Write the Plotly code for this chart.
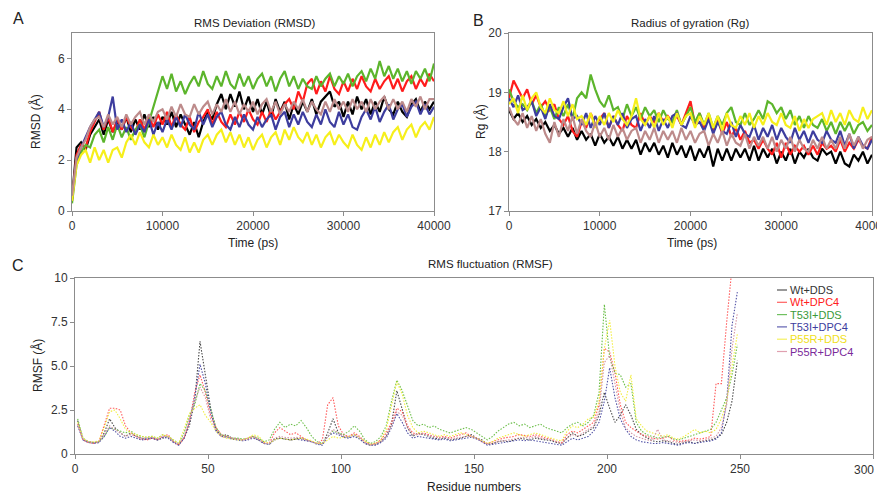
import plotly.graph_objects as go

# ---------------- data ----------------
series_names = ["Wt+DDS", "Wt+DPC4", "T53I+DDS", "T53I+DPC4", "P55R+DDS", "P55R+DPC4"]

time_ps = list(range(0, 40001, 500))  # 81 samples

rmsd_wt_dds = [0.5, 2.5, 2.7, 2.4, 3.0, 3.3, 3.6, 3.0, 3.6, 3.1, 3.5,
               3.2, 3.7, 3.1, 3.6, 3.2, 3.8, 3.3, 3.7, 3.2, 3.7,
               3.4, 3.9, 3.3, 3.8, 3.4, 3.0, 3.5, 2.9, 3.5, 3.9,
               3.6, 4.2, 4.6, 4.0, 4.6, 4.1, 4.7, 4.0, 4.5, 3.9,
               4.4, 3.8, 4.3, 3.7, 4.4, 3.9, 4.3, 3.6, 4.2, 3.8,
               4.3, 3.9, 4.4, 3.8, 4.3, 4.5, 4.7, 4.1, 4.3, 3.7,
               4.3, 3.8, 4.5, 4.0, 4.4, 3.8, 4.3, 3.9, 4.5, 4.0,
               3.8, 4.3, 3.9, 3.7, 4.2, 4.4, 3.9, 4.3, 4.0, 4.3]
rmsd_wt_dpc4 = [0.4, 2.2, 2.6, 2.5, 3.1, 3.5, 3.9, 3.2, 3.7, 3.1, 3.6,
                3.2, 3.7, 3.3, 3.1, 3.6, 3.2, 3.7, 3.3, 3.8, 3.4,
                3.9, 3.3, 3.8, 3.4, 3.2, 3.7, 3.1, 3.5, 3.7, 4.0,
                3.4, 3.9, 3.5, 3.3, 3.8, 3.4, 3.9, 3.5, 4.0, 3.6,
                3.4, 3.9, 3.5, 4.0, 3.6, 3.9, 4.2, 4.4, 4.0, 4.7,
                4.3, 5.0, 5.2, 4.6, 5.1, 4.7, 5.3, 4.8, 4.6, 5.1,
                4.7, 5.2, 4.8, 5.3, 4.9, 4.7, 5.2, 4.8, 5.1, 5.3,
                4.8, 5.2, 4.7, 5.1, 5.3, 4.8, 5.2, 4.9, 5.4, 5.1]
rmsd_t53i_dds = [0.3, 1.8, 2.3, 2.6, 2.5, 3.0, 3.2, 2.7, 3.3, 2.8, 3.4,
                 2.9, 3.3, 2.8, 3.2, 3.4, 2.9, 3.5, 4.1, 4.7, 5.3,
                 4.8, 5.4, 4.7, 5.1, 4.6, 5.0, 5.3, 4.9, 5.5, 5.0,
                 4.8, 5.3, 4.9, 5.5, 5.0, 4.8, 5.4, 4.9, 5.3, 4.8,
                 5.2, 5.4, 4.9, 5.3, 4.7, 5.2, 5.5, 4.9, 5.3, 4.8,
                 5.2, 4.9, 4.8, 5.3, 4.9, 5.2, 5.4, 4.9, 5.3, 5.0,
                 5.4, 4.9, 5.3, 5.5, 5.1, 5.6, 5.2, 5.9, 5.3, 5.7,
                 5.2, 5.6, 5.1, 5.5, 5.0, 5.5, 5.2, 5.6, 5.1, 5.8]
rmsd_t53i_dpc4 = [0.5, 2.0, 2.5, 2.9, 3.3, 3.6, 3.9, 3.3, 3.7, 4.5, 3.2,
                  3.6, 3.1, 3.5, 3.0, 3.4, 3.1, 3.6, 3.0, 3.5, 3.1,
                  3.6, 3.2, 3.7, 3.3, 3.8, 3.4, 3.2, 3.9, 3.4, 3.8,
                  3.3, 3.7, 3.9, 3.4, 3.2, 3.7, 3.3, 3.8, 3.4, 3.2,
                  3.7, 3.3, 3.6, 3.8, 3.2, 3.7, 3.9, 3.3, 3.8, 3.4,
                  3.9, 3.5, 3.3, 3.8, 3.4, 4.0, 3.5, 3.3, 3.9, 3.4,
                  3.8, 3.3, 3.2, 3.7, 4.0, 3.6, 4.1, 3.5, 3.9, 4.2,
                  3.6, 4.0, 4.2, 3.7, 4.1, 4.3, 3.8, 4.2, 3.8, 4.1]
rmsd_p55r_dds = [0.4, 1.8, 2.2, 2.4, 1.9, 2.5, 2.0, 2.4, 1.9, 2.4, 2.5,
                 2.1, 2.7, 3.0, 2.6, 3.1, 2.7, 2.5, 3.0, 2.6, 2.9,
                 2.5, 3.0, 2.6, 2.4, 2.9, 2.3, 2.7, 2.3, 2.8, 3.0,
                 2.6, 3.0, 3.2, 2.7, 3.1, 2.6, 3.0, 2.5, 2.9, 2.4,
                 2.8, 3.0, 2.5, 2.9, 3.1, 2.6, 3.2, 2.8, 3.3, 2.9,
                 2.7, 3.1, 2.6, 3.0, 2.5, 2.9, 3.1, 2.6, 3.0, 2.7,
                 2.5, 3.0, 2.6, 2.4, 2.9, 2.5, 3.0, 2.6, 3.1, 2.7,
                 3.1, 3.3, 2.8, 3.2, 3.4, 2.9, 3.3, 3.5, 3.2, 3.7]
rmsd_p55r_dpc4 = [0.6, 2.1, 2.5, 2.8, 3.3, 3.6, 3.7, 3.3, 3.8, 3.4, 3.7,
                  3.3, 3.8, 3.4, 3.7, 3.9, 3.4, 3.8, 3.5, 3.9, 4.0,
                  3.6, 4.1, 3.7, 4.2, 3.8, 3.7, 4.2, 3.8, 4.1, 4.3,
                  3.8, 4.2, 3.9, 4.4, 3.9, 4.3, 3.8, 4.2, 3.9, 4.3,
                  3.8, 4.2, 4.4, 3.9, 4.3, 3.8, 4.2, 3.9, 4.3, 4.0,
                  4.4, 3.9, 4.3, 4.0, 3.8, 4.3, 3.9, 4.4, 4.0, 4.3,
                  3.9, 4.4, 4.0, 4.3, 3.9, 4.4, 4.0, 4.3, 4.5, 4.0,
                  4.4, 4.0, 4.3, 3.9, 4.4, 4.1, 4.5, 4.0, 4.4, 4.4]

rg_wt_dds = [18.7, 18.55, 18.65, 18.5, 18.6, 18.45, 18.55, 18.4, 18.5, 18.35, 18.45,
             18.3, 18.4, 18.25, 18.4, 18.2, 18.35, 18.2, 18.3, 18.1, 18.3,
             18.15, 18.25, 18.1, 18.25, 18.05, 18.2, 18.05, 18.2, 17.95, 18.15,
             18.0, 18.15, 17.95, 18.1, 17.9, 18.15, 17.95, 18.1, 17.9, 18.1,
             17.85, 18.05, 17.9, 18.1, 17.75, 18.05, 17.85, 18.05, 17.85, 18.05,
             17.9, 18.05, 17.85, 18.1, 17.85, 18.05, 17.9, 18.05, 17.8, 18.0,
             17.85, 18.05, 17.8, 18.0, 17.9, 18.05, 17.9, 17.85, 18.05, 17.95,
             18.0, 17.8, 18.0, 17.8, 17.75, 17.95, 17.85, 18.0, 17.8, 17.95]
rg_wt_dpc4 = [18.9, 19.2, 19.05, 18.9, 19.05, 18.8, 18.95, 18.75, 18.85, 18.7, 18.8,
              18.55, 18.45, 18.6, 18.35, 18.25, 18.5, 18.4, 18.65, 18.45, 18.55,
              18.65, 18.4, 18.6, 18.45, 18.35, 18.6, 18.45, 18.4, 18.65, 18.45,
              18.6, 18.5, 18.65, 18.5, 18.6, 18.5, 18.6, 18.45, 18.65, 18.85,
              18.45, 18.65, 18.4, 18.6, 18.35, 18.55, 18.3, 18.5, 18.25, 18.4,
              18.2, 18.35, 18.15, 18.2, 18.05, 18.2, 18.05, 17.95, 18.15, 17.9,
              18.15, 17.95, 18.1, 18.0, 18.1, 17.95, 18.1, 17.95, 18.15, 18.05,
              18.1, 18.0, 18.2, 18.0, 18.15, 18.05, 18.2, 18.1, 18.05, 18.25]
rg_t53i_dds = [19.05, 18.85, 18.75, 18.8, 18.7, 18.85, 18.65, 18.8, 18.6, 18.75, 18.55,
               18.75, 18.6, 18.8, 18.55, 18.9, 19.0, 18.9, 19.3, 19.05, 18.85,
               18.75, 18.95, 18.7, 18.75, 18.55, 18.8, 18.6, 18.75, 18.55, 18.75,
               18.6, 18.7, 18.5, 18.7, 18.55, 18.5, 18.7, 18.45, 18.6, 18.75,
               18.5, 18.65, 18.45, 18.65, 18.4, 18.6, 18.45, 18.65, 18.75, 18.5,
               18.45, 18.65, 18.45, 18.55, 18.7, 18.55, 18.85, 18.8, 18.65, 18.75,
               18.55, 18.7, 18.45, 18.6, 18.4, 18.6, 18.45, 18.4, 18.55, 18.35,
               18.5, 18.3, 18.5, 18.35, 18.5, 18.3, 18.45, 18.5, 18.35, 18.45]
rg_t53i_dpc4 = [18.9, 18.75, 18.95, 18.7, 18.75, 18.85, 18.6, 18.75, 18.55, 18.8, 18.6,
                18.55, 18.75, 18.9, 18.55, 18.6, 18.45, 18.65, 18.4, 18.6, 18.45,
                18.65, 18.4, 18.6, 18.45, 18.65, 18.4, 18.55, 18.6, 18.35, 18.55,
                18.4, 18.6, 18.35, 18.55, 18.4, 18.6, 18.65, 18.45, 18.4, 18.6,
                18.45, 18.5, 18.35, 18.55, 18.3, 18.5, 18.35, 18.3, 18.5, 18.25,
                18.45, 18.3, 18.25, 18.45, 18.2, 18.4, 18.25, 18.45, 18.2, 18.4,
                18.25, 18.15, 18.4, 18.2, 18.35, 18.15, 18.35, 18.2, 18.15, 18.35,
                18.2, 18.15, 18.35, 18.1, 18.3, 18.05, 18.25, 18.1, 18.05, 18.2]
rg_p55r_dds = [18.8, 18.9, 18.65, 18.95, 18.7, 18.9, 19.0, 18.75, 18.65, 18.9, 18.7,
               18.65, 18.85, 18.6, 18.8, 18.55, 18.6, 18.45, 18.65, 18.4, 18.6,
               18.45, 18.65, 18.5, 18.7, 18.55, 18.45, 18.6, 18.9, 18.55, 18.45,
               18.6, 18.4, 18.65, 18.45, 18.6, 18.4, 18.65, 18.45, 18.6, 18.65,
               18.4, 18.6, 18.45, 18.65, 18.4, 18.6, 18.35, 18.65, 18.45, 18.4,
               18.6, 18.45, 18.65, 18.4, 18.6, 18.45, 18.65, 18.5, 18.45, 18.65,
               18.45, 18.4, 18.6, 18.35, 18.55, 18.4, 18.55, 18.6, 18.65, 18.45,
               18.7, 18.5, 18.65, 18.45, 18.7, 18.55, 18.5, 18.75, 18.55, 18.7]
rg_p55r_dpc4 = [18.75, 18.55, 18.45, 18.65, 18.4, 18.6, 18.35, 18.55, 18.3, 18.15, 18.5,
                18.25, 18.55, 18.35, 18.6, 18.3, 18.55, 18.35, 18.25, 18.5, 18.25,
                18.4, 18.2, 18.45, 18.25, 18.4, 18.2, 18.35, 18.4, 18.15, 18.35,
                18.2, 18.4, 18.15, 18.35, 18.2, 18.35, 18.15, 18.4, 18.2, 18.35,
                18.15, 18.3, 18.35, 18.1, 18.3, 18.15, 18.35, 18.1, 18.3, 18.15,
                18.1, 18.3, 18.05, 18.25, 18.1, 18.25, 18.05, 18.25, 18.0, 18.2,
                18.05, 18.25, 18.0, 18.2, 18.05, 18.0, 18.2, 18.05, 18.25, 18.05,
                18.2, 18.05, 18.25, 18.05, 18.3, 18.1, 18.25, 18.05, 18.2, 18.25]

residues = list(range(1, 250, 2))  # 125 samples

rmsf_wt_dds = [1.9, 0.8, 0.7, 0.65, 0.7, 1.2, 2.0, 1.5, 1.2, 1.0,
               1.2, 1.0, 0.9, 0.85, 0.9, 0.8, 0.9, 1.0, 0.7, 0.55,
               0.9, 1.6, 3.0, 6.4, 4.5, 2.6, 1.4, 1.0, 1.1, 0.9,
               0.85, 0.8, 0.85, 0.95, 0.8, 0.6, 0.55, 0.85, 0.9, 0.85,
               0.8, 0.85, 0.9, 0.8, 0.7, 0.6, 0.55, 1.2, 2.0, 1.2,
               1.0, 0.95, 1.1, 0.9, 0.6, 0.5, 0.55, 0.7, 1.0, 1.7,
               3.6, 2.5, 1.5, 1.0, 1.2, 1.1, 1.0, 0.9, 0.85, 0.9,
               0.8, 0.85, 0.9, 1.0, 1.1, 0.9, 0.8, 0.55, 0.6, 0.7,
               0.75, 0.7, 0.8, 0.9, 0.85, 0.8, 0.9, 0.85, 0.8, 0.75,
               0.65, 0.6, 0.9, 1.2, 1.0, 1.1, 1.3, 1.5, 2.2, 3.5,
               2.6, 1.8, 2.2, 2.8, 2.2, 1.4, 1.1, 0.9, 0.75, 0.7,
               0.75, 0.7, 0.6, 0.55, 0.65, 0.7, 0.6, 0.7, 0.75, 0.8,
               0.9, 1.1, 1.8, 3.0, 5.3]
rmsf_wt_dpc4 = [1.7, 0.8, 0.65, 0.6, 0.7, 1.6, 2.6, 2.6, 2.5, 1.6,
                1.2, 1.0, 0.85, 0.8, 0.9, 0.8, 1.0, 1.1, 0.7, 0.5,
                0.9, 1.8, 3.5, 4.5, 3.5, 2.2, 1.5, 1.1, 1.0, 0.9,
                0.85, 0.8, 0.9, 1.0, 0.85, 0.65, 0.6, 1.2, 1.5, 1.3,
                1.1, 1.2, 1.0, 0.8, 0.7, 0.6, 0.8, 2.8, 3.2, 1.6,
                1.1, 1.0, 1.2, 1.0, 0.7, 0.55, 0.6, 0.8, 1.2, 1.8,
                2.6, 2.4, 1.6, 1.2, 1.1, 1.2, 1.1, 1.0, 0.95, 1.0,
                0.9, 1.0, 1.1, 1.2, 1.0, 0.9, 0.7, 0.6, 0.7, 0.8,
                0.9, 0.95, 1.0, 1.1, 1.05, 1.0, 1.1, 1.0, 0.9, 0.85,
                0.7, 0.65, 1.1, 1.3, 1.2, 1.4, 1.6, 1.8, 2.8, 6.0,
                5.8, 4.6, 2.8, 1.8, 1.5, 1.3, 1.1, 1.0, 0.9, 0.85,
                0.9, 1.0, 0.8, 0.7, 0.75, 0.8, 0.9, 0.85, 0.9, 1.0,
                4.0, 4.0, 7.5, 10.6, None]
rmsf_t53i_dds = [2.0, 0.9, 0.7, 0.65, 0.7, 1.0, 1.5, 1.4, 1.3, 1.2,
                 1.3, 1.1, 1.0, 0.95, 1.0, 0.9, 1.1, 1.0, 0.8, 0.6,
                 1.2, 2.2, 2.8, 4.0, 3.6, 2.5, 1.5, 1.1, 1.0, 0.9,
                 0.9, 0.85, 0.9, 1.0, 0.9, 0.7, 0.8, 1.4, 1.8, 1.5,
                 1.7, 1.6, 1.9, 1.5, 1.0, 0.7, 0.6, 1.0, 1.3, 1.2,
                 1.1, 1.3, 1.6, 1.3, 0.8, 0.6, 0.7, 1.0, 1.6, 3.0,
                 4.2, 3.6, 2.8, 1.9, 1.6, 1.7, 1.5, 1.6, 1.4, 1.3,
                 1.2, 1.3, 1.4, 1.5, 1.4, 1.2, 1.0, 0.8, 1.0, 1.3,
                 1.5, 1.7, 1.8, 1.6, 1.7, 1.5, 1.6, 1.7, 1.5, 1.4,
                 1.3, 1.2, 1.5, 1.7, 1.8, 1.6, 1.8, 2.2, 3.5, 8.5,
                 5.5, 4.6, 4.5, 3.8, 4.0, 1.8, 1.3, 1.1, 1.0, 0.9,
                 0.95, 1.0, 0.85, 0.8, 0.9, 1.0, 1.1, 1.2, 1.3, 1.4,
                 1.8, 2.5, 3.2, 4.5, 6.2]
rmsf_t53i_dpc4 = [1.6, 0.8, 0.65, 0.6, 0.65, 1.0, 1.5, 1.3, 1.0, 0.9,
                  1.0, 0.9, 0.8, 0.85, 0.9, 0.8, 0.95, 0.9, 0.65, 0.5,
                  0.9, 1.8, 3.2, 5.1, 4.0, 2.4, 1.3, 1.0, 0.95, 0.85,
                  0.8, 0.75, 0.8, 0.9, 0.8, 0.6, 0.55, 0.8, 0.9, 0.85,
                  0.8, 0.85, 0.8, 0.75, 0.7, 0.55, 0.5, 1.0, 1.2, 1.1,
                  0.95, 0.9, 1.0, 0.85, 0.6, 0.5, 0.5, 0.65, 0.9, 1.5,
                  2.3, 1.8, 1.2, 0.9, 1.0, 0.95, 0.9, 0.85, 0.8, 0.85,
                  0.75, 0.8, 0.85, 0.9, 0.95, 0.85, 0.7, 0.5, 0.55, 0.6,
                  0.65, 0.7, 0.75, 0.8, 0.75, 0.8, 0.75, 0.7, 0.65, 0.6,
                  0.55, 0.5, 0.7, 0.9, 0.8, 0.9, 1.0, 1.3, 1.8, 3.0,
                  4.9, 3.2, 2.0, 1.4, 1.0, 0.8, 0.7, 0.65, 0.6, 0.6,
                  0.65, 0.6, 0.55, 0.5, 0.6, 0.65, 0.6, 0.65, 0.7, 0.75,
                  0.85, 1.2, 3.0, 7.3, 9.2]
rmsf_p55r_dds = [1.8, 0.9, 0.7, 0.7, 0.75, 1.5, 2.4, 2.5, 2.0, 1.4,
                 1.2, 1.1, 1.0, 0.95, 1.0, 0.9, 1.1, 1.0, 0.8, 0.6,
                 1.4, 2.3, 2.6, 2.8, 2.2, 1.8, 1.3, 1.0, 0.9, 0.85,
                 0.8, 0.8, 0.9, 1.1, 1.0, 0.7, 0.6, 0.8, 0.9, 0.85,
                 0.8, 0.85, 0.9, 0.85, 0.75, 0.6, 0.6, 0.8, 1.0, 0.9,
                 0.95, 1.0, 1.1, 0.9, 0.7, 0.55, 0.6, 0.8, 1.4, 2.8,
                 4.1, 3.4, 2.2, 1.5, 1.2, 1.3, 1.2, 1.1, 1.0, 1.1,
                 1.0, 1.1, 1.2, 1.1, 1.0, 0.9, 0.75, 0.6, 0.7, 0.9,
                 1.0, 1.1, 1.2, 1.1, 1.0, 1.1, 1.2, 1.1, 1.0, 0.9,
                 0.8, 0.75, 1.3, 1.6, 1.5, 1.7, 2.0, 2.1, 3.0, 6.0,
                 7.6, 5.0, 3.5, 3.0, 4.5, 2.0, 1.6, 1.3, 1.2, 1.1,
                 1.0, 1.1, 0.9, 0.85, 1.0, 1.2, 1.4, 1.2, 1.3, 1.2,
                 1.4, 2.0, 3.0, 5.0, 6.8]
rmsf_p55r_dpc4 = [1.7, 0.85, 0.7, 0.65, 0.7, 1.1, 1.6, 1.4, 1.2, 1.0,
                  1.1, 1.0, 0.9, 0.9, 0.95, 0.85, 1.0, 0.95, 0.7, 0.55,
                  1.0, 2.0, 3.0, 3.8, 3.2, 2.0, 1.4, 1.0, 0.95, 0.9,
                  0.85, 0.8, 0.85, 0.95, 0.85, 0.6, 0.6, 0.9, 1.0, 0.95,
                  0.9, 0.95, 0.9, 0.8, 0.7, 0.6, 0.6, 1.0, 1.4, 1.2,
                  1.0, 1.0, 1.1, 0.95, 0.65, 0.5, 0.55, 0.7, 1.0, 1.6,
                  2.4, 2.2, 1.5, 1.1, 1.1, 1.15, 1.05, 1.0, 0.9, 0.95,
                  0.85, 0.9, 0.95, 1.0, 1.0, 0.9, 0.7, 0.55, 0.6, 0.7,
                  0.75, 0.8, 0.85, 0.9, 0.95, 0.9, 1.0, 0.9, 0.85, 0.8,
                  0.7, 0.6, 0.9, 1.1, 1.0, 1.2, 1.4, 1.6, 2.4, 5.2,
                  5.6, 4.0, 2.4, 1.5, 1.2, 1.0, 0.9, 0.8, 0.75, 1.4,
                  0.8, 0.75, 0.7, 0.65, 0.7, 0.75, 0.8, 0.75, 0.8, 0.9,
                  1.0, 1.5, 2.8, 6.0, 8.0]

x_ticks_time = [0, 10000, 20000, 30000, 40000]
x_ticklabels_time = ["0", "10000", "20000", "30000", "40000"]
y_ticks_rmsd = [0, 2, 4, 6]
y_ticks_rg = [17, 18, 19, 20]
x_ticks_res = [0, 50, 100, 150, 200, 250, 300]
x_ticklabels_res = ["0", "50", "100", "150", "200", "250", ""]
last_res_label = "300"
y_ticks_rmsf = [0, 2.5, 5.0, 7.5, 10]
y_ticklabels_rmsf = ["0", "2.5", "5.0", "7.5", "10"]

rmsd_series = [rmsd_wt_dds, rmsd_wt_dpc4, rmsd_t53i_dds, rmsd_t53i_dpc4, rmsd_p55r_dds, rmsd_p55r_dpc4]
rg_series = [rg_wt_dds, rg_wt_dpc4, rg_t53i_dds, rg_t53i_dpc4, rg_p55r_dds, rg_p55r_dpc4]
rmsf_series = [rmsf_wt_dds, rmsf_wt_dpc4, rmsf_t53i_dds, rmsf_t53i_dpc4, rmsf_p55r_dds, rmsf_p55r_dpc4]
for s in rmsd_series + rg_series:
    assert len(s) == len(time_ps), len(s)
for s in rmsf_series:
    assert len(s) == len(residues), len(s)

# ---------------- styles ----------------
md_colors = ["#000000", "#ff1c1c", "#5cb52c", "#3d3d9e", "#f6ef1b", "#bd8b8b"]
rmsf_colors = ["#4a4a4a", "#ff5a5a", "#6cbf4a", "#5252a6", "#f2ee40", "#d497a4"]
legend_line_colors = ["#555555", "#ff6060", "#70c060", "#6060b0", "#f4f060", "#e0a0b0"]
legend_text_colors = ["#333333", "#ff2020", "#3a9a3a", "#3d3d9e", "#f0e020", "#7a2a9a"]

FONT = "Liberation Sans, Arial, sans-serif"
W, H = 877, 494

fig = go.Figure()

for i, name in enumerate(series_names):
    fig.add_trace(go.Scatter(x=time_ps, y=rmsd_series[i], mode="lines", name=name,
                             line=dict(color=md_colors[i], width=2.2), showlegend=False,
                             xaxis="x", yaxis="y"))
for i, name in enumerate(series_names):
    fig.add_trace(go.Scatter(x=time_ps, y=rg_series[i], mode="lines", name=name,
                             line=dict(color=md_colors[i], width=2.2), showlegend=False,
                             xaxis="x2", yaxis="y2"))
for i, name in enumerate(series_names):
    fig.add_trace(go.Scatter(x=residues, y=rmsf_series[i], mode="lines", name=name,
                             line=dict(color=rmsf_colors[i], width=1.1, dash="1.5px,1.5px"),
                             showlegend=False, xaxis="x3", yaxis="y3"))

def px_x(p):
    return p / W

def px_y(p):
    return 1 - p / H

axis_common = dict(showline=True, linecolor="#8c8c8c", linewidth=1, mirror=True,
                   ticks="outside", ticklen=4, tickcolor="#8c8c8c", showgrid=False,
                   zeroline=False, tickfont=dict(family=FONT, size=12, color="#333333"),
                   automargin=False)

fig.update_layout(
    width=W, height=H,
    margin=dict(l=0, r=0, t=0, b=0),
    paper_bgcolor="white", plot_bgcolor="white",
    font=dict(family=FONT, color="#333333"),
    showlegend=False,
    xaxis=dict(domain=[px_x(72), px_x(434)], range=[0, 40000], tickvals=x_ticks_time,
               ticktext=x_ticklabels_time, anchor="y", **axis_common),
    yaxis=dict(domain=[px_y(211), px_y(33)], range=[0, 7], tickvals=y_ticks_rmsd,
               anchor="x", **axis_common),
    xaxis2=dict(domain=[px_x(509), px_x(872)], range=[0, 40000], tickvals=x_ticks_time,
                ticktext=x_ticklabels_time, anchor="y2", ticklabeloverflow="allow",
                **axis_common),
    yaxis2=dict(domain=[px_y(211), px_y(33)], range=[17, 20], tickvals=y_ticks_rg,
                anchor="x2", **axis_common),
    xaxis3=dict(domain=[px_x(75), px_x(873)], range=[0, 300], tickvals=x_ticks_res,
                ticktext=x_ticklabels_res, anchor="y3", **axis_common),
    yaxis3=dict(domain=[px_y(454), px_y(278)], range=[0, 10], tickvals=y_ticks_rmsf,
                ticktext=y_ticklabels_rmsf, anchor="x3", **axis_common),
)

ann = []
def add_text(text, x, y, size, color="#222222", xanchor="center", angle=0):
    ann.append(dict(text=text, x=px_x(x), y=px_y(y), xref="paper", yref="paper",
                    showarrow=False, font=dict(family=FONT, size=size, color=color),
                    xanchor=xanchor, yanchor="middle", textangle=angle))

add_text("A", 18, 19, 16)
add_text("B", 479, 20, 16)
add_text("C", 18, 265, 16)
add_text("RMS Deviation (RMSD)", 255, 23, 11.5)
add_text("Radius of gyration (Rg)", 690, 23, 11.5)
add_text("RMS fluctuation (RMSF)", 491, 264, 11.5)
add_text("Time (ps)", 253, 243, 12)
add_text("Time (ps)", 692, 243, 12)
add_text("Residue numbers", 474, 487, 12)
add_text("RMSD (Å)", 35, 122, 12, angle=-90)
add_text("Rg (Å)", 480, 122, 12, angle=-90)
add_text("RMSF (Å)", 37, 366, 12, angle=-90)
# last residue tick label kept inside the page, as in the reference
add_text(last_res_label, 876, 470, 12, color="#333333", xanchor="right")

# compact legend for panel C
shapes = []
for i, name in enumerate(series_names):
    yy = 290 + 12.3 * i
    shapes.append(dict(type="line", xref="paper", yref="paper",
                       x0=px_x(777), x1=px_x(787), y0=px_y(yy), y1=px_y(yy),
                       line=dict(color=legend_line_colors[i], width=1.2)))
    add_text(name, 788, yy, 11, color=legend_text_colors[i], xanchor="left")

fig.update_layout(annotations=ann, shapes=shapes)

fig.write_html("out.html", config={"displayModeBar": False},
               post_script="document.body.style.margin='0';document.body.style.overflow='hidden';")
